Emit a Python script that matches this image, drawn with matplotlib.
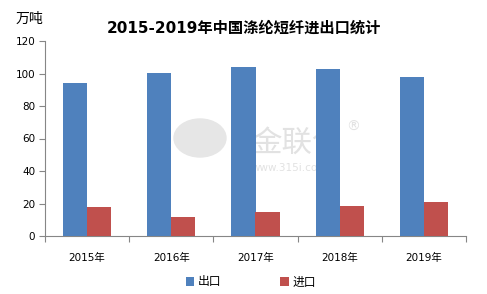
import matplotlib
matplotlib.use("Agg")
import matplotlib.pyplot as plt
from matplotlib.patches import Ellipse
import numpy as np

plt.rcParams['font.family'] = ['DejaVu Sans', 'Noto Sans CJK SC']

# data (unit: 万吨)
years = ['2015年', '2016年', '2017年', '2018年', '2019年']
exports = [94, 100.2, 104, 102.6, 97.7]
imports = [17.8, 11.7, 14.8, 18.4, 20.9]

blue = '#4f81bd'
red = '#c0504d'
grey = '#868686'

fig = plt.figure(figsize=(4.87, 2.94), dpi=100)
ax = fig.add_axes([45/487, 58/294, 421/487, 195/294])

x = np.arange(len(years))
w = 0.286
ax.bar(x - w/2, exports, w, color=blue, label='出口', zorder=3)
ax.bar(x + w/2, imports, w, color=red, label='进口', zorder=3)

ax.set_xlim(-0.5, len(years) - 0.5)
ax.set_ylim(0, 120)
ax.set_yticks(range(0, 121, 20))
ax.tick_params(axis='y', labelsize=7.5, length=4, color=grey, pad=3)

# category ticks sit between the groups, labels in the middle
ax.set_xticks(np.arange(-0.5, len(years)), minor=False)
ax.set_xticklabels([])
ax.set_xticks(x, minor=True)
ax.set_xticklabels(years, minor=True, fontsize=7.5)
ax.tick_params(axis='x', which='major', length=4, color=grey)
ax.tick_params(axis='x', which='minor', length=0, pad=12)

for s in ['top', 'right']:
    ax.spines[s].set_visible(False)
for s in ['left', 'bottom']:
    ax.spines[s].set_color(grey)

fig.text(0.5, 0.905, '2015-2019年中国涤纶短纤进出口统计', ha='center', va='center',
         fontsize=11, fontweight='bold', family=['DejaVu Sans', 'Noto Sans CJK SC'])
fig.text(29/487, 1 - 19/294, '万吨', ha='center', va='center', fontsize=10,
         family=['Noto Sans CJK SC'])

# faint watermark (logo + name)
fig.patches.append(Ellipse((200/487, 1 - 138/294), 52/487, 38/294, angle=0,
                           transform=fig.transFigure, color='#e6e6e6', zorder=0.5))
ax.text(0.49, 0.475, '金联创', transform=ax.transAxes, fontsize=22, color='#e2e2e2',
        ha='left', va='center', zorder=1, family=['Noto Sans CJK SC'])
ax.text(0.715, 0.56, '®', transform=ax.transAxes, fontsize=10, color='#e2e2e2',
        ha='left', va='center', zorder=1)
ax.text(0.49, 0.35, 'www.315i.com', transform=ax.transAxes, fontsize=7.5, color='#e2e2e2',
        ha='left', va='center', zorder=1)

fig.legend(loc='center', bbox_to_anchor=(0.515, 1 - 282/294), ncol=2, frameon=False,
           handlelength=0.7, handleheight=0.7, handletextpad=0.3,
           columnspacing=5, prop={'family': ['Noto Sans CJK SC'], 'size': 8.5})

fig.savefig('out.png', dpi=100)
